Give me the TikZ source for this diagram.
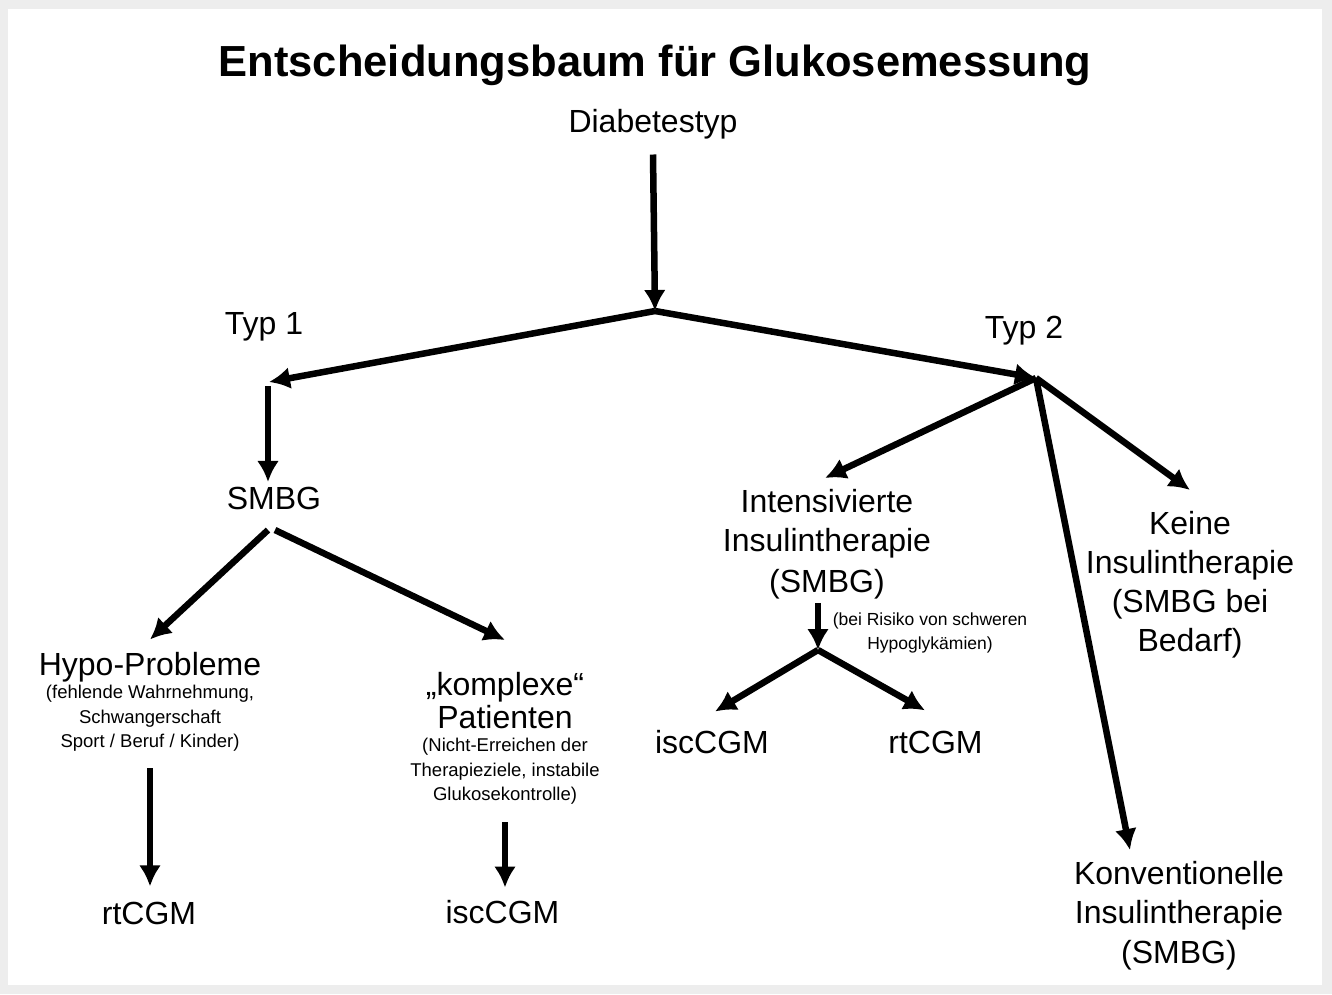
\documentclass[tikz,border=0pt]{standalone}
\usepackage{fontspec}
\setmainfont{Liberation Sans}
\usetikzlibrary{arrows.meta}
\begin{document}
\begin{tikzpicture}[x=1pt,y=-1pt,line cap=butt,line join=miter,>={Latex[length=21pt,width=22pt]}]
 \tikzset{gross/.style={inner sep=0,font=\fontsize{32}{40}\selectfont,align=center},
 klein/.style={inner sep=0,font=\fontsize{18.5}{24.5}\selectfont,align=center},
 pfeil/.style={->,line width=6.5pt}
 }
 \useasboundingbox (0,0) rectangle (1332,994);
 \fill[black!7] (0,0) rectangle (1332,994);
 \fill[white] (8,9) rectangle (1322,985);
 \node[anchor=base,inner sep=0,font=\fontsize{43.5}{50}\selectfont\bfseries] (titel) at (655,76) {Entscheidungsbaum für Glukosemessung};
 \node[gross,anchor=base] (diab) at (653,132.5) {Diabetestyp};
 \node[gross,anchor=base] (typ1) at (264,334.5) {Typ 1};
 \node[gross,anchor=base] (typ2) at (1024,338.5) {Typ 2};
 \node[gross,anchor=base] (smbg) at (274,509.5) {SMBG};
 \node[gross,anchor=base] (hypo) at (150,675.5) {Hypo-Probleme};
 \node[klein,anchor=north] (hypoinfo) at (150,685) {(fehlende Wahrnehmung,\\Schwangerschaft\\Sport / Beruf / Kinder)};
 \node[gross,anchor=north,font=\fontsize{32}{33}\selectfont] (kompl) at (505,671.6) {„komplexe“\\Patienten};
 \node[klein,anchor=north] (komplinfo) at (505,738) {(Nicht-Erreichen der\\Therapieziele, instabile\\Glukosekontrolle)};
 \node[gross,anchor=base] (rt1) at (149,924.5) {rtCGM};
 \node[gross,anchor=base] (isc1) at (502.5,923.5) {iscCGM};
 \node[gross,anchor=north] (intens) at (827,488.6) {Intensivierte\\Insulintherapie\\(SMBG)};
 \node[klein,anchor=north,font=\fontsize{17.5}{24}\selectfont] (risiko) at (930,613) {(bei Risiko von schweren\\Hypoglykämien)};
 \node[gross,anchor=base] (isc2) at (712,753.5) {iscCGM};
 \node[gross,anchor=base] (rt2) at (935.5,753.5) {rtCGM};
 \node[gross,anchor=north,font=\fontsize{32}{39}\selectfont] (keine) at (1190,510.6) {Keine\\Insulintherapie\\(SMBG bei\\Bedarf)};
 \node[gross,anchor=north,font=\fontsize{32}{39.5}\selectfont] (konv) at (1179,860.6) {Konventionelle\\Insulintherapie\\(SMBG)};
 \coordinate (gabel1) at (655,311);
 \coordinate (typ1pkt) at (269,382);
 \coordinate (typ2pkt) at (1036,378);
 \coordinate (gabel2) at (818,650);
 \draw[pfeil] ([yshift=-22pt]diab.base)--(gabel1);
 \draw[pfeil] (gabel1)--(typ1pkt);
 \draw[pfeil] (gabel1)--(typ2pkt);
 \draw[pfeil] ([xshift=-1pt,yshift=-4pt]typ1pkt)--([xshift=-6pt,yshift=5pt]smbg.north);
 \draw[pfeil] ([xshift=-6pt,yshift=-20pt]smbg.south)--([yshift=12.6pt]hypo.north);
 \draw[pfeil] ([xshift=1pt,yshift=-20pt]smbg.south)--([yshift=31.6pt]kompl.north);
 \draw[pfeil] ([yshift=-16.5pt]hypoinfo.south)--([xshift=1pt,yshift=15.6pt]rt1.north);
 \draw[pfeil] ([yshift=-17.5pt]komplinfo.south)--([xshift=2.5pt,yshift=12.6pt]isc1.north);
 \draw[pfeil] (typ2pkt)--([xshift=-2pt,yshift=10.6pt]intens.north);
 \draw[pfeil] (typ2pkt)--([yshift=20.6pt]keine.north);
 \draw[pfeil] (typ2pkt)--([xshift=-49pt,yshift=10.6pt]konv.north);
 \draw[pfeil] ([xshift=-9pt,yshift=-4pt]intens.south)--(gabel2);
 \draw[pfeil] (gabel2)--([xshift=3pt,yshift=18.6pt]isc2.north);
 \draw[pfeil] (gabel2)--([xshift=-10.5pt,yshift=20.6pt]rt2.north);
\end{tikzpicture}
\end{document}
